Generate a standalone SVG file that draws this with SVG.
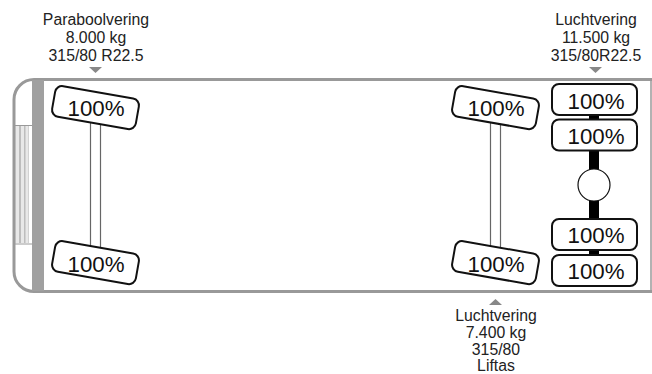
<svg xmlns="http://www.w3.org/2000/svg" width="652" height="374" viewBox="0 0 652 374">
<style>
.l{font:15.8px "Liberation Sans",Arial,sans-serif;fill:#222;text-anchor:middle}
.p{font:22.3px "Liberation Sans",Arial,sans-serif;fill:#111;text-anchor:middle}
.t{fill:#fff;stroke:#111;stroke-width:2}
.a{fill:#fff;stroke:#666;stroke-width:1.2}
.h{fill:#888}
</style>
<rect width="652" height="374" fill="#fff"/>
<g id="chassis">
<path d="M652 79.500H34A20 20 0 0 0 14 99.500V271.500A20 20 0 0 0 34 291.500H652" fill="none" stroke="#999" stroke-width="3"/>
<path d="M651 78V293" stroke="#999" stroke-width="1.500"/>
<rect x="32" y="80" width="12" height="211" fill="#a0a0a0"/>
<rect x="15" y="126" width="14" height="117" fill="#bdbdbd"/>
<path d="M17.500 126V243M22.500 126V243M27 126V243" stroke="#e8e8e8" stroke-width="3"/>
<path d="M15 125.500H32M15 244H32" stroke="#999" stroke-width="1"/>
</g>
<g id="connectors">
<rect x="90.500" y="122" width="10" height="127" class="a"/>
<rect x="490.500" y="122" width="10" height="127" class="a"/>
<rect x="589" y="114" width="10" height="6" fill="#000"/>
<rect x="589" y="150" width="10" height="72" fill="#000"/>
<rect x="589" y="250" width="10" height="6" fill="#000"/>
</g>
<g id="tire-front-top"><rect x="53" y="92" width="85" height="31" rx="7" class="t" transform="rotate(10 95 107.500)"/><text class="p" x="96" y="116">100%</text></g>
<g id="tire-front-bottom"><rect x="53" y="247" width="85" height="31" rx="7" class="t" transform="rotate(10 95 262.500)"/><text class="p" x="96" y="272">100%</text></g>
<g id="tire-lift-top"><rect x="453" y="92" width="85" height="31" rx="7" class="t" transform="rotate(10 495 107.500)"/><text class="p" x="496" y="116">100%</text></g>
<g id="tire-lift-bottom"><rect x="453" y="247" width="85" height="31" rx="7" class="t" transform="rotate(10 495 262.500)"/><text class="p" x="496" y="272">100%</text></g>
<g id="tire-rear-1"><rect x="552" y="84" width="85" height="31" rx="7" class="t"/><text class="p" x="596" y="109">100%</text></g>
<g id="tire-rear-2"><rect x="552" y="119.500" width="85" height="31" rx="7" class="t"/><text class="p" x="596" y="144">100%</text></g>
<g id="tire-rear-3"><rect x="552" y="219" width="85" height="31" rx="7" class="t"/><text class="p" x="596" y="243">100%</text></g>
<g id="tire-rear-4"><rect x="552" y="255" width="85" height="31" rx="7" class="t"/><text class="p" x="596" y="279">100%</text></g>
<g id="hub"><circle cx="594" cy="185" r="16" fill="#fff" stroke="#111" stroke-width="1.200"/></g>
<g id="label-front"><text class="l" x="96" y="25">Paraboolvering</text><text class="l" x="96" y="43">8.000 kg</text><text class="l" x="96" y="61">315/80 R22.5</text><path class="h" d="M89 67H102L95.500 73Z"/></g>
<g id="label-rear"><text class="l" x="596" y="25">Luchtvering</text><text class="l" x="596" y="43">11.500 kg</text><text class="l" x="596" y="61">315/80R22.5</text><path class="h" d="M589 67H602L595.500 73Z"/></g>
<g id="label-lift"><path class="h" d="M489 305H502L495.500 299Z"/><text class="l" x="496" y="320.500">Luchtvering</text><text class="l" x="496" y="338">7.400 kg</text><text class="l" x="496" y="355">315/80</text><text class="l" x="496" y="370.500">Liftas</text></g>
</svg>
